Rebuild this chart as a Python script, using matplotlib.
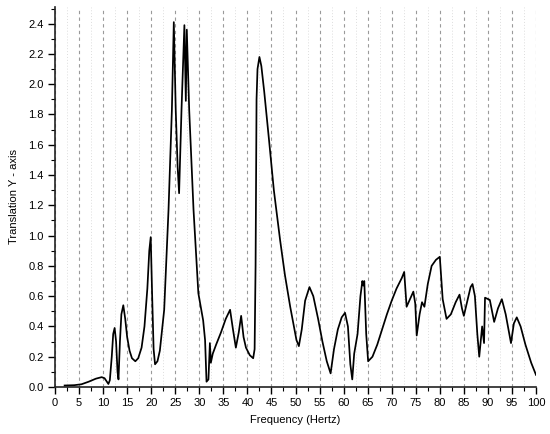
import numpy as np
import matplotlib
matplotlib.use('Agg')
import matplotlib.pyplot as plt
from matplotlib.ticker import MultipleLocator

plt.rcParams['font.family'] = ['Liberation Sans', 'DejaVu Sans']

# frequency (Hz) and translation values
freq = [2.0, 4.0, 5.5, 7.0, 8.5, 9.7, 10.3, 10.8, 11.1, 11.4, 11.8, 12.1, 12.4, 12.7, 13.0, 13.2,
        13.5, 13.8, 14.2, 14.6, 15.0, 15.5, 16.0, 16.7, 17.3, 18.0, 18.6, 19.2, 19.6, 19.9, 20.2,
        20.5, 20.8, 21.3, 21.8, 22.7, 23.6, 24.3, 24.7, 25.1, 25.5, 25.8, 26.3, 26.9,
        27.2, 27.4, 27.9, 28.8, 29.8, 30.8, 31.2, 31.5, 31.9, 32.2, 32.4,
        32.8, 33.5, 34.5, 35.5, 36.4, 37.0, 37.6, 38.2, 38.7, 39.2, 39.7, 40.5, 41.2, 41.5, 41.7,
        41.9, 42.1, 42.5, 42.9, 43.5, 44.5, 45.5, 46.8, 47.8, 48.9, 50.2, 50.7, 51.3, 52.0, 52.9,
        53.7, 54.7, 55.6, 56.5, 57.3, 58.0, 58.8, 59.6, 60.3, 60.9, 61.4, 61.8, 62.2, 62.9, 63.5,
        63.9, 64.1, 64.3, 64.7, 65.1, 66.0, 67.0, 68.0, 69.0, 70.0, 71.0, 72.1, 72.6, 73.1, 73.8,
        74.5, 74.9, 75.2, 75.8, 76.3, 76.8, 77.5, 78.3, 79.2, 80.0, 80.6, 81.4, 82.3, 83.3, 84.1,
        84.6, 85.0, 85.8, 86.4, 86.8, 87.3, 87.8, 88.2, 88.6, 88.8, 89.2, 89.4, 90.4, 91.3, 92.1,
        92.9, 93.7, 94.8, 95.4, 96.0, 96.8, 97.8, 99.0, 100.0]
trans = [0.010, 0.012, 0.018, 0.035, 0.055, 0.065, 0.058, 0.035, 0.020, 0.045, 0.20, 0.35, 0.39, 0.30, 0.10, 0.05,
         0.30, 0.48, 0.54, 0.45, 0.33, 0.24, 0.19, 0.17, 0.19, 0.26, 0.40, 0.65, 0.90, 0.99, 0.60,
         0.25, 0.15, 0.17, 0.24, 0.51, 1.17, 1.83, 2.41, 1.83, 1.45, 1.28, 1.83, 2.39,
         1.89, 2.36, 1.83, 1.17, 0.62, 0.44, 0.31, 0.035, 0.05, 0.29, 0.16,
         0.22, 0.28, 0.36, 0.45, 0.51, 0.38, 0.26, 0.36, 0.47, 0.33, 0.26, 0.21, 0.19, 0.25, 0.80,
         1.90, 2.10, 2.18, 2.12, 1.95, 1.63, 1.30, 0.97, 0.74, 0.53, 0.31, 0.27, 0.38, 0.57, 0.66,
         0.60, 0.45, 0.30, 0.17, 0.09, 0.25, 0.38, 0.46, 0.49, 0.40, 0.15, 0.05, 0.22, 0.35, 0.60,
         0.70, 0.67, 0.70, 0.35, 0.17, 0.20, 0.28, 0.38, 0.48, 0.57, 0.65, 0.72, 0.76, 0.53, 0.58,
         0.63, 0.55, 0.34, 0.48, 0.56, 0.53, 0.68, 0.80, 0.84, 0.86, 0.58, 0.45, 0.48, 0.56, 0.61,
         0.52, 0.47, 0.58, 0.66, 0.68, 0.60, 0.35, 0.20, 0.33, 0.40, 0.29, 0.59, 0.575, 0.43, 0.52,
         0.58, 0.48, 0.29, 0.42, 0.46, 0.40, 0.28, 0.16, 0.08]

fig = plt.figure(figsize=(5.5, 4.34), dpi=100)
ax = fig.add_axes([55/550, 1 - 387/434, (536 - 55)/550, (387 - 7)/434])

ax.plot(freq, trans, color='black', lw=1.25, zorder=3)

ax.set_xlim(0, 100)
ax.set_ylim(0, 2.51)
ax.xaxis.set_major_locator(MultipleLocator(5))
ax.xaxis.set_minor_locator(MultipleLocator(2.5))
ax.yaxis.set_minor_locator(MultipleLocator(0.1))
ax.set_yticks(np.arange(0, 2.41, 0.2))
ax.yaxis.set_major_formatter(matplotlib.ticker.FormatStrFormatter('%.1f'))

# vertical grid lines (major dashed, minor dotted)
ax.grid(axis='x', which='major', color='#9a9a9a', ls=(0, (3, 3)), lw=0.8)
ax.grid(axis='x', which='minor', color='#dddddd', ls=(0, (1, 2)), lw=0.7)
ax.set_axisbelow(True)

for s in ['top', 'right']:
    ax.spines[s].set_visible(False)
for s in ['left', 'bottom']:
    ax.spines[s].set_linewidth(1.2)
    ax.spines[s].set_color('#222222')

ax.tick_params(which='major', direction='out', length=5, width=1.0, labelsize=8, pad=3)
ax.tick_params(which='minor', direction='out', length=3, width=0.8)

ax.set_xlabel('Frequency (Hertz)', fontsize=8, labelpad=5)
ax.set_ylabel('Translation Y - axis', fontsize=8, labelpad=7)

plt.savefig('out.png', dpi=100)
